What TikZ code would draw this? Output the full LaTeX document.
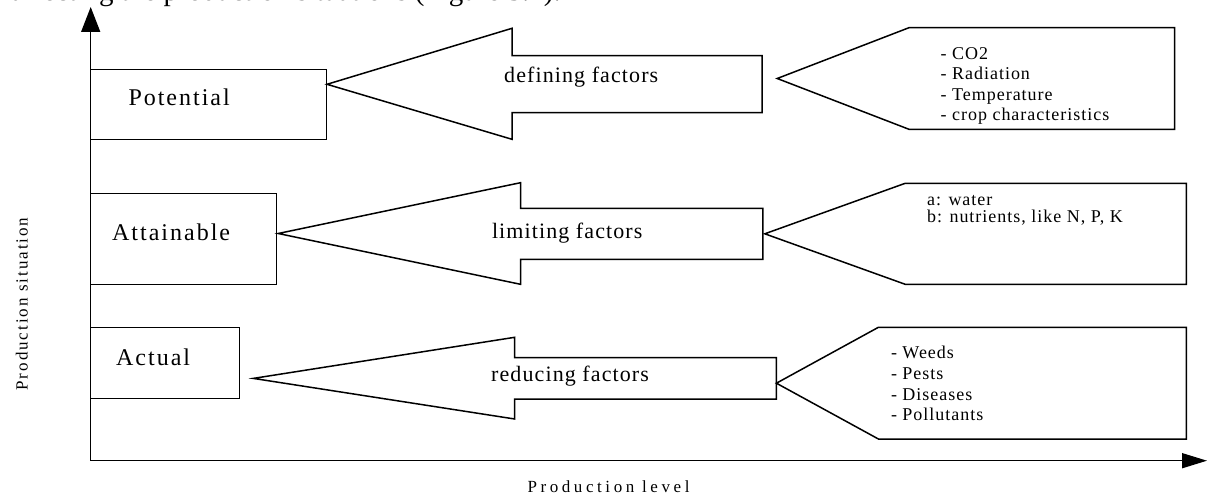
\documentclass[tikz,border=0pt]{standalone}
\usepackage{fontspec}
\setmainfont{Liberation Serif}
\usetikzlibrary{arrows.meta}
\newfontfamily\lblfont[LetterSpace=8.3]{Liberation Serif}
\newfontfamily\facfont[LetterSpace=5]{Liberation Serif}
\newfontfamily\lstfont[LetterSpace=5.5]{Liberation Serif}
\newfontfamily\axsfont[LetterSpace=11.6]{Liberation Serif}
\newfontfamily\axlfont[LetterSpace=21]{Liberation Serif}
\begin{document}
\begin{tikzpicture}[x=1pt,y=-1pt,
  outline/.style={draw=black, line width=1.5pt, line join=miter},
  sitbox/.style={outline, inner sep=0pt, outer sep=0pt, fill=white},
  lbl/.style={anchor=base west, inner sep=0pt, font=\lblfont\fontsize{24}{24}\selectfont},
  fac/.style={anchor=base west, inner sep=0pt, font=\facfont\fontsize{22}{22}\selectfont},
  lst/.style={anchor=base west, inner sep=0pt, font=\lstfont\fontsize{18}{18}\selectfont},
  axis/.style={line width=1.5pt}
]
\useasboundingbox (0,0) rectangle (1208,495);
\fill[white] (0,0) rectangle (1208,495);

% clipped caption text at top
\begin{scope}
\clip (0,0) rectangle (1208,495);
\node[anchor=base west, inner sep=0pt, font=\fontsize{29}{29}\selectfont] (cap) at (11,1) {affecting the production situations (Figure 3.1).};
\end{scope}

% axes
\coordinate (O) at (90.7,460.7);
\coordinate (ytop) at (90.7,7);
\coordinate (xend) at (1207,460.7);
\draw[axis, -{Triangle[length=25pt,width=19pt]}] (O) -- (ytop);
\draw[axis, -{Triangle[length=25pt,width=15pt]}] (O) -- (xend);
\node[anchor=base, inner sep=0pt, rotate=90, font=\axsfont\fontsize{17}{17}\selectfont] (ylab) at (27.5,304) {Production situation};
\node[anchor=base west, inner sep=0pt, font=\axlfont\fontsize{17}{17}\selectfont] (xlab) at (527.4,492) {Production level};

% situation boxes
\node[sitbox, minimum width=235.8pt, minimum height=70pt] (pot) at ({(90.7+326.5)/2},{(69.5+139.5)/2}) {};
\node[sitbox, minimum width=186pt, minimum height=91pt] (att) at ({(90.7+276.7)/2},{(193.3+284.3)/2}) {};
\node[sitbox, minimum width=148.9pt, minimum height=70.8pt] (act) at ({(90.7+239.6)/2},{(327.5+398.3)/2}) {};
\node[lbl] (tpot) at (128.3,106) {Potential};
\node[lbl] (tatt) at (112,240.7) {Attainable};
\node[lbl] (tact) at (116,365) {Actual};

% factor arrows
\draw[outline] (327,84.3) -- (512,28.3) -- (512,55.7) -- (762,55.7) -- (762,112.7) -- (512,112.7) -- (512,139.3) -- cycle;
\draw[outline] (278.2,233.5) -- (520.5,182.7) -- (520.5,208.3) -- (762.9,208.3) -- (762.9,259.3) -- (520.5,259.3) -- (520.5,284.3) -- cycle;
\draw[outline] (253.3,378.4) -- (514.7,337.3) -- (514.7,357.7) -- (776.4,357.7) -- (776.4,399) -- (514.7,399) -- (514.7,419) -- cycle;
\node[fac] (fdef) at (504,83) {defining factors};
\node[fac] (flim) at (491.8,238.5) {limiting factors};
\node[fac] (fred) at (491,381.5) {reducing factors};

% factor lists
\draw[outline] (777.2,78.5) -- (909,27.7) -- (1174.6,27.7) -- (1174.6,129.3) -- (909,129.3) -- cycle;
\draw[outline] (764.8,233.8) -- (905.2,183.3) -- (1186.3,183.3) -- (1186.3,284.3) -- (905.2,284.3) -- cycle;
\draw[outline] (776.4,383.2) -- (878.4,327.3) -- (1186.3,327.3) -- (1186.3,439) -- (878.4,439) -- cycle;

\node[lst] (d1) at (940.4,59.3) {- CO2};
\node[lst] (d2) at (940.4,80) {- Radiation};
\node[lst] (d3) at (940.4,100.7) {- Temperature};
\node[lst] (d4) at (940.4,120.5) {- crop characteristics};

\node[lst] (l1) at (927,205) {a: water};
\node[lst] (l2) at (927,222.5) {b: nutrients, like N, P, K};

\node[lst] (r1) at (890.8,358.3) {- Weeds};
\node[lst] (r2) at (890.8,379.3) {- Pests};
\node[lst] (r3) at (890.8,400) {- Diseases};
\node[lst] (r4) at (890.8,420.7) {- Pollutants};
\end{tikzpicture}
\end{document}
